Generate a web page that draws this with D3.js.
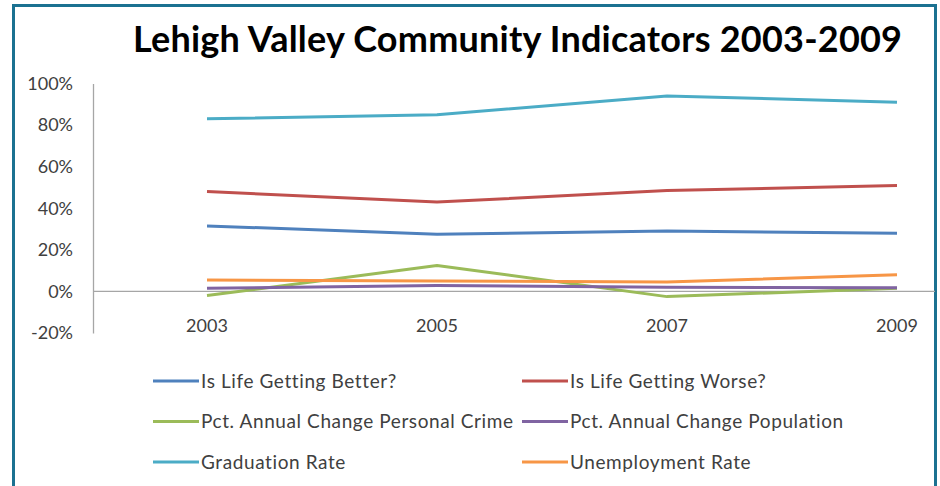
<!DOCTYPE html>
<html lang="en">
<head>
    <meta charset="UTF-8">
    <title>Lehigh Valley Community Indicators 2003-2009</title>
    <style>
        body { margin: 0; background: #fff; }
        .axis text { font-family: Lato, sans-serif; font-size: 18px; fill: #404040; }
        .legend text { font-family: Lato, sans-serif; font-size: 19px; letter-spacing: 0.6px; fill: #404040; }
    </style>
</head>
<body>
    <script src="https://d3js.org/d3.v7.min.js"></script>
    <script>
        var width = 940;
        var height = 486;

        // data
        var years = ['2003', '2005', '2007', '2009'];
        var lifeBetter = [31.5, 27.5, 29, 28];
        var lifeWorse = [48, 43, 48.5, 51];
        var crime = [-2, 12.5, -2.5, 1.5];
        var population = [1.5, 2.8, 2, 1.8];
        var graduation = [83, 85, 94, 91];
        var unemployment = [5.5, 5, 4.5, 8];
        var yTicks = [-20, 0, 20, 40, 60, 80, 100];

        var series = [
            { name: 'Is Life Getting Better?', values: lifeBetter, color: '#4f81bd' },
            { name: 'Is Life Getting Worse?', values: lifeWorse, color: '#c0504d' },
            { name: 'Pct. Annual Change Personal Crime', values: crime, color: '#9bbb59' },
            { name: 'Pct. Annual Change Population', values: population, color: '#8064a2' },
            { name: 'Graduation Rate', values: graduation, color: '#4bacc6' },
            { name: 'Unemployment Rate', values: unemployment, color: '#f79646' }
        ];

        var svg = d3.select('body').append('svg').attr('width', width).attr('height', height);

        // frame
        svg.append('rect')
            .attr('x', 13.5).attr('y', 5.5)
            .attr('width', 922).attr('height', 500)
            .attr('fill', 'none')
            .attr('stroke', '#1b7191').attr('stroke-width', 3);

        svg.append('text')
            .attr('x', 517.5).attr('y', 52)
            .attr('text-anchor', 'middle')
            .attr('textLength', 769)
            .attr('lengthAdjust', 'spacing')
            .style('font-family', 'Lato, sans-serif')
            .style('font-size', '36px')
            .style('font-weight', 'bold')
            .attr('fill', '#000')
            .text('Lehigh Valley Community Indicators 2003-2009');

        var xScale = d3.scalePoint().domain(years).range([207, 897]);
        var yScale = d3.scaleLinear().domain([-20, 100]).range([333, 83.5]);

        // y axis
        var yAxis = svg.append('g').attr('class', 'axis')
            .attr('transform', 'translate(93,0)')
            .call(d3.axisLeft(yScale).tickValues(yTicks).tickSize(0).tickPadding(20)
                .tickFormat(function (d) { return d + '%'; }));
        yAxis.select('.domain').attr('stroke', '#a6a6a6').attr('stroke-width', 1.3);

        // zero line
        svg.append('line')
            .attr('x1', 93).attr('x2', 935)
            .attr('y1', yScale(0)).attr('y2', yScale(0))
            .attr('stroke', '#a6a6a6').attr('stroke-width', 1.3);

        // x labels
        svg.append('g').attr('class', 'axis')
            .selectAll('text')
            .data(years)
            .enter()
            .append('text')
            .attr('x', function (d) { return xScale(d); })
            .attr('y', 332)
            .attr('text-anchor', 'middle')
            .text(function (d) { return d; });

        var line = d3.line()
            .x(function (d, i) { return xScale(years[i]); })
            .y(function (d) { return yScale(d); });

        svg.selectAll('.series')
            .data(series)
            .enter()
            .append('path')
            .attr('class', 'series')
            .attr('d', function (d) { return line(d.values); })
            .attr('fill', 'none')
            .attr('stroke', function (d) { return d.color; })
            .attr('stroke-width', 3)
            .attr('stroke-linejoin', 'round');

        // legend
        var legend = svg.append('g').attr('class', 'legend');
        var items = legend.selectAll('g')
            .data(series)
            .enter()
            .append('g')
            .attr('transform', function (d, i) {
                return 'translate(' + (i % 2 === 0 ? 153 : 522) + ',' + (381 + Math.floor(i / 2) * 40.5) + ')';
            });
        items.append('line')
            .attr('x1', 0).attr('x2', 46)
            .attr('stroke', function (d) { return d.color; })
            .attr('stroke-width', 3);
        items.append('text')
            .attr('x', 48).attr('y', 6.5)
            .text(function (d) { return d.name; });
    </script>
</body>
</html>
